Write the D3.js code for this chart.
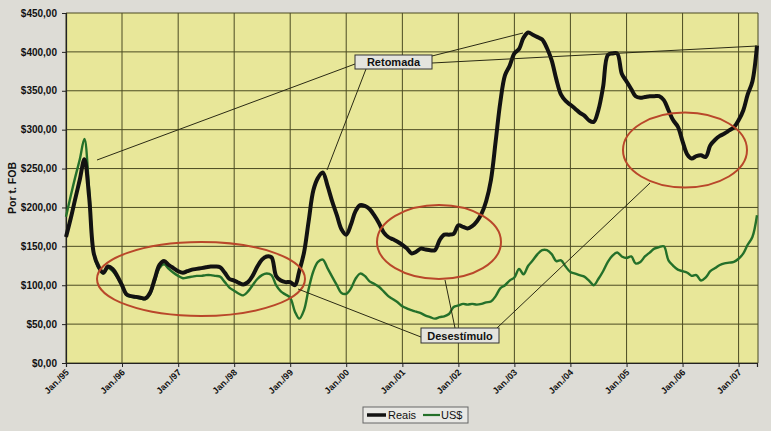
<!DOCTYPE html>
<html><head><meta charset="utf-8">
<script src="https://cdn.jsdelivr.net/npm/d3@7"></script>
<style>
html,body{margin:0;padding:0;background:#dddcd6;}
svg{display:block;font-family:Arial,"Liberation Sans",sans-serif;}
</style></head>
<body>
<svg id="chart" width="771" height="431"></svg>
<script>
// Monthly values, Jan/1995 .. May/2007
const startMonth = "1995-01";
const reais = [
  162,186,210,236,262,213,141,124,116,124,121,112,   // 1995
  100,88,86,85,84,83,90,108,126,131,126,122,         // 1996
  118,116,118,120,121,122,123,124,124,123,116,108,   // 1997
  106,103,101,104,112,124,133,137,136,112,106,104,   // 1998
  104,100,118,142,182,222,238,245,228,208,190,172,   // 1999
  165,178,195,203,202,198,190,180,168,162,159,156,   // 2000
  152,147,141,143,147,146,145,145,158,165,165,166,   // 2001
  177,175,173,176,182,192,208,235,285,335,370,382,   // 2002
  398,404,418,425,422,419,416,405,389,365,345,337,   // 2003
  332,327,322,318,312,310,325,355,396,398,398,372,   // 2004
  362,352,343,341,342,343,343,343,338,325,312,304,   // 2005
  285,268,263,266,267,265,280,287,292,295,299,303,   // 2006
  312,325,345,362,408                                // 2007
];
const usd = [
  188,215,238,262,288,222,140,122,115,122,118,110,   // 1995
  99,87,85,84,83,82,88,105,122,127,121,116,          // 1996
  112,109,110,111,112,112,113,113,112,111,104,97,    // 1997
  93,89,87,92,100,108,113,115,113,100,92,88,         // 1998
  84,66,57,68,95,118,130,133,122,111,100,90,         // 1999
  89,96,108,115,112,105,102,98,92,86,82,78,          // 2000
  73,70,68,66,64,61,59,57,59,60,63,72,               // 2001
  74,76,75,76,75,76,78,79,86,96,100,106,             // 2002
  110,121,114,125,132,140,145,145,140,131,132,124,   // 2003
  117,115,113,111,106,100,108,118,130,138,142,137,   // 2004
  135,137,128,130,137,142,147,149,150,132,125,120,   // 2005
  118,116,112,113,106,110,118,122,126,128,129,130,   // 2006
  134,141,152,162,190                                // 2007
];
const seriesNames = ["Reais","US$"];
const yTicks = [0,50,100,150,200,250,300,350,400,450];
const xTickYears = [1995,1996,1997,1998,1999,2000,2001,2002,2003,2004,2005,2006,2007];
const yTitle = "Por t. FOB";
const labelRetomada = "Retomada";
const labelDesestimulo = "Desestímulo";

const svg = d3.select("#chart");
const L = 66, R = 757, T = 13, B = 363;
const parse = d3.timeParse("%Y-%m");
const t0 = parse(startMonth);
const dates = reais.map((_, i) => d3.timeMonth.offset(t0, i));
const x = d3.scaleTime().domain([t0, dates[dates.length-1]]).range([L, R]);
const y = d3.scaleLinear().domain([0, 450]).range([B, T]);

// plot background
svg.append("rect").attr("x", L).attr("y", T).attr("width", R + 1 - L).attr("height", B - T)
  .attr("fill", "#e8e799");

// grid
const gridColor = "#4b4b22";
svg.append("g").selectAll("line").data(yTicks).join("line")
  .attr("x1", L).attr("x2", R + 1).attr("y1", d => y(d)).attr("y2", d => y(d))
  .attr("stroke", gridColor).attr("stroke-width", 1);
const yearDates = xTickYears.map(yr => new Date(yr, 0, 1));
svg.append("g").selectAll("line").data(yearDates).join("line")
  .attr("x1", d => x(d)).attr("x2", d => x(d)).attr("y1", T).attr("y2", B)
  .attr("stroke", gridColor).attr("stroke-width", 1);
svg.append("line").attr("x1", R + 1).attr("x2", R + 1).attr("y1", T).attr("y2", B)
  .attr("stroke", gridColor).attr("stroke-width", 1);

// axes
const yAxis = d3.axisLeft(y).tickValues(yTicks).tickSize(4).tickPadding(5)
  .tickFormat(d => "$" + d3.format(".2f")(d).replace(".", ","));
const gy = svg.append("g").attr("transform", `translate(${L},0)`).call(yAxis);
gy.select(".domain").attr("stroke", "#222").attr("stroke-width", 1.2);
gy.selectAll(".tick line").attr("stroke", "#222");
gy.selectAll(".tick text").attr("font-size", 10).attr("font-weight", "bold").attr("fill", "#111")
  .attr("font-family", "Arial,'Liberation Sans',sans-serif");

const xAxis = d3.axisBottom(x).tickValues(yearDates).tickSize(4).tickFormat(d => "Jan./" + d3.timeFormat("%y")(d));
const gx = svg.append("g").attr("transform", `translate(0,${B})`).call(xAxis);
gx.select(".domain").attr("stroke", "#222").attr("stroke-width", 1.2);
gx.selectAll(".tick line").attr("stroke", "#222");
gx.selectAll(".tick text")
  .attr("font-size", 9).attr("font-weight", "bold").attr("fill", "#111")
  .attr("font-family", "Arial,'Liberation Sans',sans-serif")
  .attr("text-anchor", "end").attr("dy", null).attr("y", 0)
  .attr("transform", "translate(3,10) rotate(-45)");

// y title
svg.append("text").attr("transform", "translate(16,188) rotate(-90)")
  .attr("text-anchor", "middle").attr("font-size", 10.5).attr("font-weight", "bold").attr("fill", "#111")
  .text(yTitle);

// lines
const line = d3.line().x((d, i) => x(dates[i])).y(d => y(d)).curve(d3.curveCatmullRom.alpha(0.5));
svg.append("path").datum(usd).attr("d", line).attr("fill", "none")
  .attr("stroke", "#24702a").attr("stroke-width", 2.4).attr("stroke-linejoin", "round");
svg.append("path").datum(reais).attr("d", line).attr("fill", "none")
  .attr("stroke", "#121212").attr("stroke-width", 4).attr("stroke-linejoin", "round");

// ellipses
const ellipseColor = "#b9472a";
const ellipses = [
  {cx: 201, cy: 279, rx: 104, ry: 37},
  {cx: 439, cy: 242, rx: 62, ry: 37},
  {cx: 685, cy: 150, rx: 62, ry: 37.5}
];
svg.append("g").selectAll("ellipse").data(ellipses).join("ellipse")
  .attr("cx", d => d.cx).attr("cy", d => d.cy).attr("rx", d => d.rx).attr("ry", d => d.ry)
  .attr("fill", "none").attr("stroke", ellipseColor).attr("stroke-width", 2);

// connector lines
const connectors = [
  [97, 160, 355, 64], [366, 69, 327, 170], [432, 56, 523, 33], [432, 63, 757, 46],
  [298, 289, 421, 337], [445, 280, 455, 328], [497, 328, 650, 183]
];
svg.append("g").selectAll("line").data(connectors).join("line")
  .attr("x1", d => d[0]).attr("y1", d => d[1]).attr("x2", d => d[2]).attr("y2", d => d[3])
  .attr("stroke", "#2a2a14").attr("stroke-width", 1);

// annotation boxes
function box(x0, y0, w, h, txt) {
  svg.append("rect").attr("x", x0).attr("y", y0).attr("width", w).attr("height", h)
    .attr("fill", "#e4e4de").attr("stroke", "#333").attr("stroke-width", 1);
  svg.append("text").attr("x", x0 + w / 2).attr("y", y0 + h / 2 + 4).attr("text-anchor", "middle")
    .attr("font-size", 11).attr("font-weight", "bold").attr("fill", "#111").text(txt);
}
box(355, 55, 77, 14, labelRetomada);
box(421, 328, 78, 15, labelDesestimulo);

// legend
const lg = svg.append("g");
lg.append("rect").attr("x", 363).attr("y", 407).attr("width", 105).attr("height", 16)
  .attr("fill", "#e8e8e4").attr("stroke", "#666").attr("stroke-width", 1);
lg.append("line").attr("x1", 367).attr("x2", 386).attr("y1", 415).attr("y2", 415)
  .attr("stroke", "#121212").attr("stroke-width", 3.5);
lg.append("text").attr("x", 388).attr("y", 419).attr("font-size", 11).attr("fill", "#111").text(seriesNames[0]);
lg.append("line").attr("x1", 423).attr("x2", 440).attr("y1", 415).attr("y2", 415)
  .attr("stroke", "#24702a").attr("stroke-width", 2.2);
lg.append("text").attr("x", 441).attr("y", 419).attr("font-size", 11).attr("fill", "#111").text(seriesNames[1]);
</script>
</body></html>
